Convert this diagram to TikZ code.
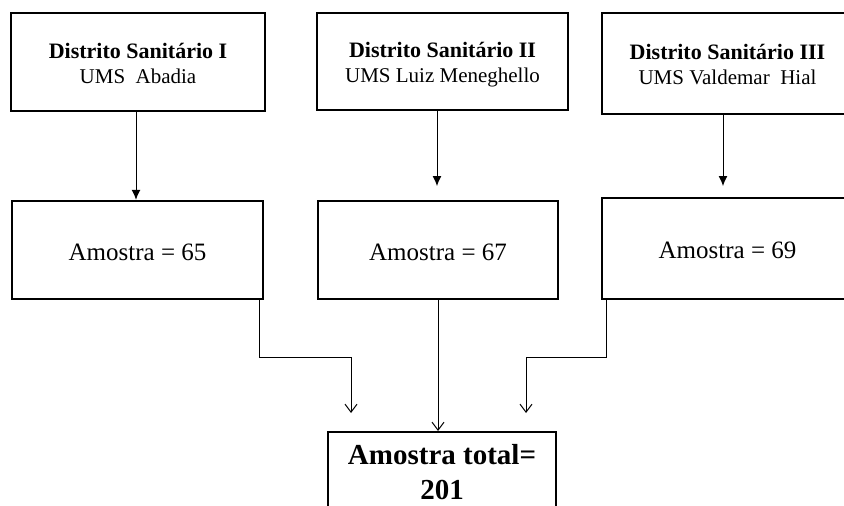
\documentclass[tikz,border=0pt]{standalone}
\usepackage{fontspec}
\setmainfont{Liberation Serif}
\usetikzlibrary{arrows.meta,positioning}

\tikzset{
  caixa/.style={draw,line width=2.4pt,rectangle,inner sep=0pt,
    minimum width=251pt,minimum height=98pt},
  distrito/.style={caixa,font=\fontsize{21}{25}\selectfont,
    text height=20pt,text depth=28pt},
  amostra/.style={caixa,font=\fontsize{25}{28}\selectfont,
    text height=20pt,text depth=0pt},
  seta/.style={line width=1pt,-{Latex[length=10pt,width=9pt]}},
  soma/.style={line width=1pt,-{Straight Barb[length=8pt,width=12pt]}},
}
\newcommand{\linhas}[2]{\begin{tabular}[t]{@{}c@{}}#1\\#2\end{tabular}}

\begin{document}
\begin{tikzpicture}[x=1pt,y=-1pt]
  \useasboundingbox (0,0) rectangle (844,506);

  % distritos
  \node[distrito,minimum width=254pt] (dist1) at (138,62)
    {\linhas{\bfseries\fontsize{22}{25}\selectfont Distrito Sanitário I}{UMS~ Abadia}};
  \node[distrito,minimum height=97pt] (dist2) at (442.5,61.5)
    {\linhas{\bfseries\fontsize{22}{25}\selectfont Distrito Sanitário II}{UMS Luiz Meneghello}};
  \node[distrito,minimum height=101pt] (dist3) at (727.5,63.5)
    {\linhas{\bfseries\fontsize{22}{25}\selectfont Distrito Sanitário III}{UMS Valdemar~ Hial}};

  % amostras
  \node[amostra] (am1) at (137.5,250) {Amostra = 65};
  \node[amostra,minimum width=240pt] (am2) at (438,250) {Amostra = 67};
  \node[amostra,minimum height=101pt] (am3) at (727.5,248.5) {Amostra = 69};

  \node[caixa,minimum width=228pt,minimum height=0pt,anchor=north,
    font=\bfseries\fontsize{29}{35}\selectfont,
    text height=32pt,text depth=68pt] (total) at (442,431)
    {\linhas{Amostra total=}{201}};

  \coordinate (fim2) at (437,186);
  \coordinate (fim3) at (723,186);
  \coordinate (dobra1) at (351,357);
  \coordinate (ponta1) at (351,413);
  \coordinate (dobra3) at (526,357);
  \coordinate (ponta3) at (526,413);

  \draw[seta] (dist1.south -| 136,0) -- (am1.north -| 136,0);
  \draw[seta] (dist2.south -| fim2) -- (fim2);
  \draw[seta] (dist3.south -| fim3) -- (fim3);

  \draw[soma] ([xshift=-5pt]am1.south east) |- (dobra1) -- (ponta1);
  \draw[soma] (am2.south) -- (am2.south |- total.north);
  \draw[soma] ([xshift=6pt]am3.south west) |- (dobra3) -- (ponta3);
\end{tikzpicture}
\end{document}
